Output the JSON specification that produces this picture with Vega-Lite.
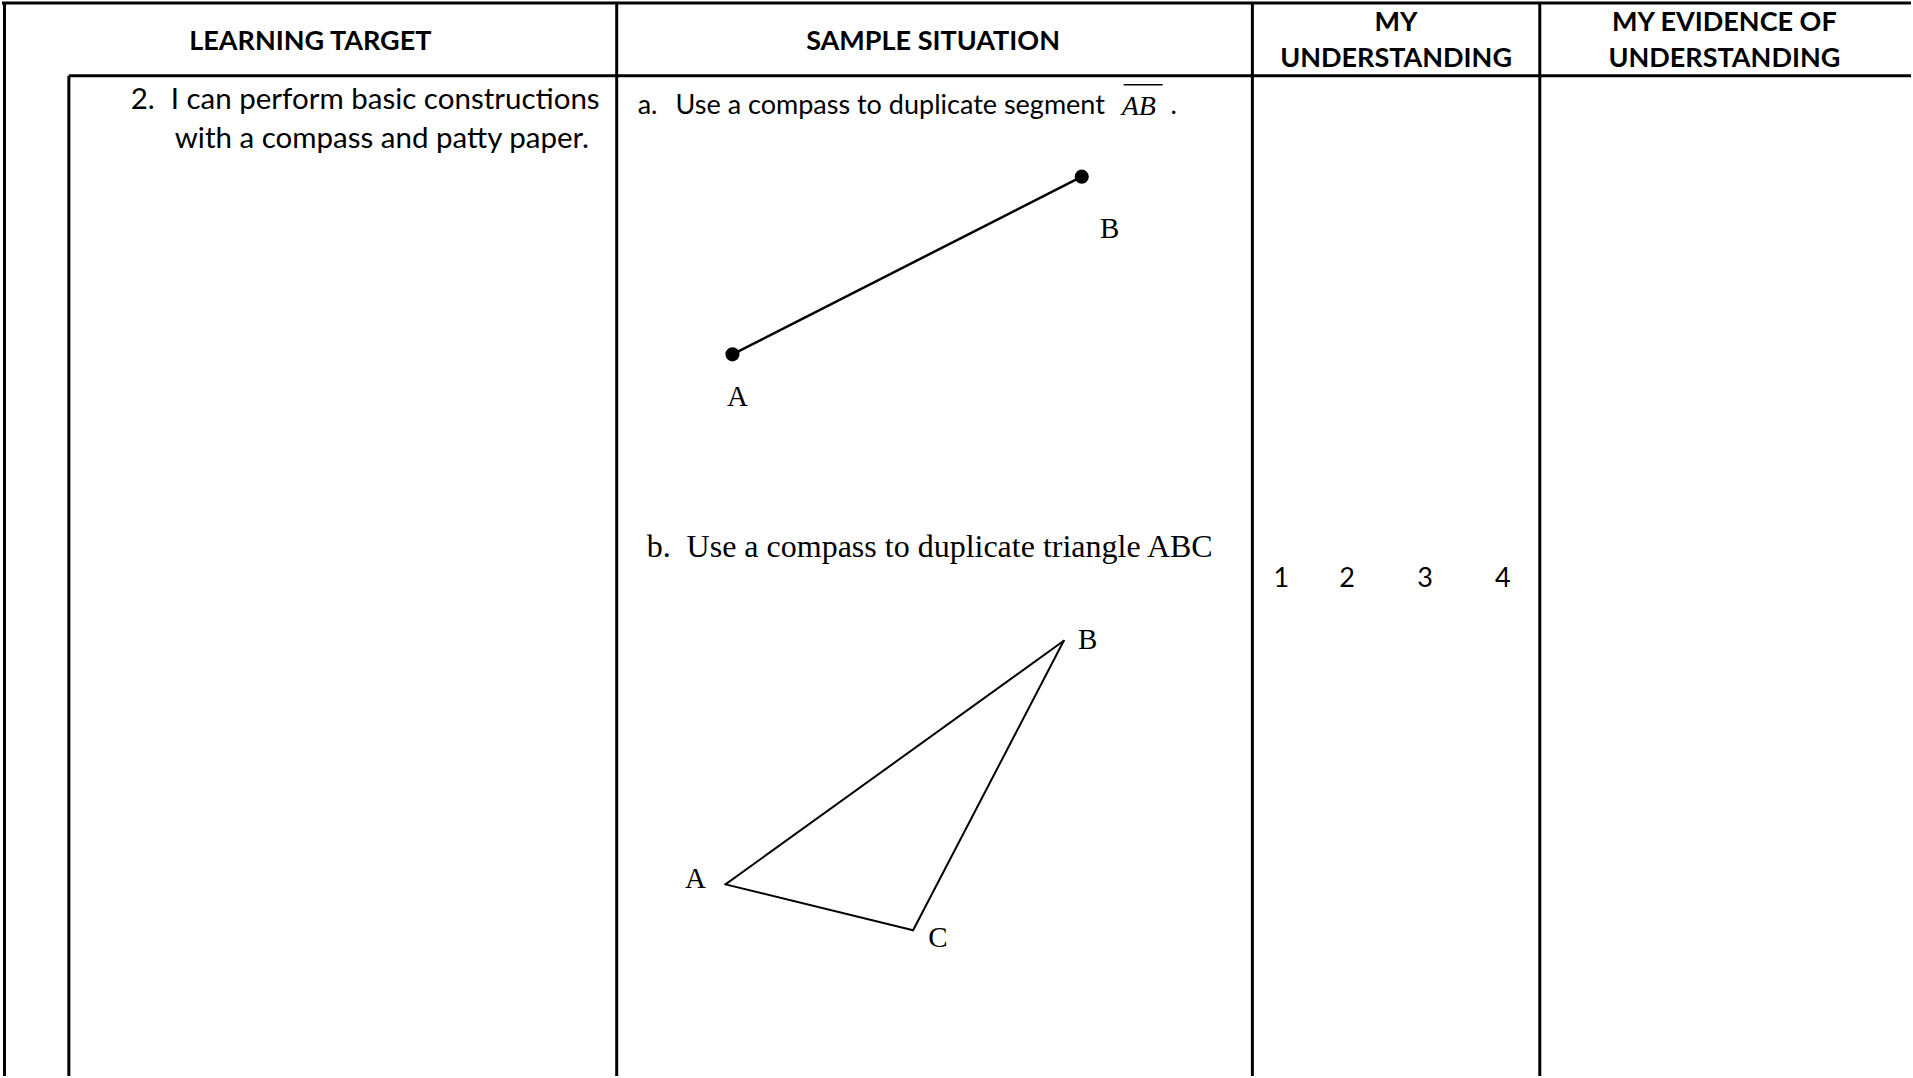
{
  "$schema": "https://vega.github.io/schema/vega-lite/v6.json",
  "width": 1913,
  "height": 1078,
  "autosize": {"type": "fit", "contains": "padding"},
  "padding": 0,
  "background": "white",
  "config": {"view": {"stroke": null}},
  "datasets": {
    "rules": [
      {"kind": "table", "x": 0, "y": 3, "x2": 1913, "y2": 3},
      {"kind": "table", "x": 67, "y": 76, "x2": 1913, "y2": 76},
      {"kind": "table", "x": 2.5, "y": 2, "x2": 2.5, "y2": 1078},
      {"kind": "table", "x": 67, "y": 76, "x2": 67, "y2": 1078},
      {"kind": "table", "x": 616, "y": 2, "x2": 616, "y2": 1078},
      {"kind": "table", "x": 1253, "y": 2, "x2": 1253, "y2": 1078},
      {"kind": "table", "x": 1541, "y": 2, "x2": 1541, "y2": 1078},
      {"kind": "segment", "x": 732, "y": 355, "x2": 1082, "y2": 177},
      {"kind": "triangle", "x": 725, "y": 886, "x2": 1064, "y2": 642},
      {"kind": "triangle", "x": 1064, "y": 642, "x2": 913, "y2": 932},
      {"kind": "triangle", "x": 913, "y": 932, "x2": 725, "y2": 886},
      {"kind": "overline", "x": 1124, "y": 85, "x2": 1163, "y2": 85}
    ],
    "dots": [
      {"name": "A", "x": 732, "y": 355},
      {"name": "B", "x": 1082, "y": 177}
    ],
    "texts": [
      {"role": "header", "x": 309, "y": 42, "text": "LEARNING TARGET"},
      {"role": "header", "x": 933, "y": 42, "text": "SAMPLE SITUATION"},
      {"role": "header", "x": 1397, "y": 23, "text": "MY"},
      {"role": "header", "x": 1397, "y": 59, "text": "UNDERSTANDING"},
      {"role": "header", "x": 1726, "y": 23, "text": "MY EVIDENCE OF"},
      {"role": "header", "x": 1726, "y": 59, "text": "UNDERSTANDING"},
      {"role": "body", "x": 129, "y": 100, "text": "2."},
      {"role": "body", "x": 169, "y": 100, "text": "I can perform basic constructions"},
      {"role": "body", "x": 173, "y": 139, "text": "with a compass and patty paper."},
      {"role": "small", "x": 637, "y": 106, "text": "a."},
      {"role": "small", "x": 675, "y": 106, "text": "Use a compass to duplicate segment"},
      {"role": "small", "x": 1171, "y": 106, "text": "."},
      {"role": "italic", "x": 1122, "y": 107, "text": "AB"},
      {"role": "serif", "x": 646, "y": 548, "text": "b."},
      {"role": "serif", "x": 686, "y": 548, "text": "Use a compass to duplicate triangle ABC"},
      {"role": "label", "x": 737, "y": 398, "text": "A"},
      {"role": "label", "x": 1110, "y": 229, "text": "B"},
      {"role": "label", "x": 695, "y": 881, "text": "A"},
      {"role": "label", "x": 1088, "y": 641, "text": "B"},
      {"role": "label", "x": 938, "y": 940, "text": "C"},
      {"role": "rating", "x": 1282, "y": 580, "text": "1"},
      {"role": "rating", "x": 1348, "y": 580, "text": "2"},
      {"role": "rating", "x": 1426, "y": 580, "text": "3"},
      {"role": "rating", "x": 1504, "y": 580, "text": "4"}
    ]
  },
  "layer": [
    {
      "data": {"name": "rules"},
      "transform": [{"filter": "datum.kind === 'table'"}],
      "mark": {"type": "rule", "color": "black", "strokeWidth": 3},
      "encoding": {
        "x": {"field": "x", "type": "quantitative", "scale": {"domain": [0, 1913], "nice": false, "zero": false}, "axis": null},
        "y": {"field": "y", "type": "quantitative", "scale": {"domain": [0, 1078], "nice": false, "zero": false, "reverse": true}, "axis": null},
        "x2": {"field": "x2"},
        "y2": {"field": "y2"}
      }
    },
    {
      "data": {"name": "rules"},
      "transform": [{"filter": "datum.kind === 'segment'"}],
      "mark": {"type": "rule", "color": "black", "strokeWidth": 2.5},
      "encoding": {
        "x": {"field": "x", "type": "quantitative", "scale": {"domain": [0, 1913], "nice": false, "zero": false}, "axis": null},
        "y": {"field": "y", "type": "quantitative", "scale": {"domain": [0, 1078], "nice": false, "zero": false, "reverse": true}, "axis": null},
        "x2": {"field": "x2"},
        "y2": {"field": "y2"}
      }
    },
    {
      "data": {"name": "rules"},
      "transform": [{"filter": "datum.kind === 'triangle'"}],
      "mark": {"type": "rule", "color": "black", "strokeWidth": 2, "strokeCap": "round"},
      "encoding": {
        "x": {"field": "x", "type": "quantitative", "scale": {"domain": [0, 1913], "nice": false, "zero": false}, "axis": null},
        "y": {"field": "y", "type": "quantitative", "scale": {"domain": [0, 1078], "nice": false, "zero": false, "reverse": true}, "axis": null},
        "x2": {"field": "x2"},
        "y2": {"field": "y2"}
      }
    },
    {
      "data": {"name": "rules"},
      "transform": [{"filter": "datum.kind === 'overline'"}],
      "mark": {"type": "rule", "color": "black", "strokeWidth": 1.5},
      "encoding": {
        "x": {"field": "x", "type": "quantitative", "scale": {"domain": [0, 1913], "nice": false, "zero": false}, "axis": null},
        "y": {"field": "y", "type": "quantitative", "scale": {"domain": [0, 1078], "nice": false, "zero": false, "reverse": true}, "axis": null},
        "x2": {"field": "x2"},
        "y2": {"field": "y2"}
      }
    },
    {
      "data": {"name": "dots"},
      "mark": {"type": "circle", "color": "black", "opacity": 1, "size": 200},
      "encoding": {
        "x": {"field": "x", "type": "quantitative", "scale": {"domain": [0, 1913], "nice": false, "zero": false}, "axis": null},
        "y": {"field": "y", "type": "quantitative", "scale": {"domain": [0, 1078], "nice": false, "zero": false, "reverse": true}, "axis": null}
      }
    },
    {
      "data": {"name": "texts"},
      "transform": [{"filter": "datum.role === 'header'"}],
      "mark": {"type": "text", "font": "Lato", "fontWeight": "bold", "fontSize": 27, "align": "center", "baseline": "middle", "color": "black"},
      "encoding": {
        "x": {"field": "x", "type": "quantitative", "scale": {"domain": [0, 1913], "nice": false, "zero": false}, "axis": null},
        "y": {"field": "y", "type": "quantitative", "scale": {"domain": [0, 1078], "nice": false, "zero": false, "reverse": true}, "axis": null},
        "text": {"field": "text"}
      }
    },
    {
      "data": {"name": "texts"},
      "transform": [{"filter": "datum.role === 'body'"}],
      "mark": {"type": "text", "font": "Lato", "fontSize": 29.5, "align": "left", "baseline": "middle", "color": "black"},
      "encoding": {
        "x": {"field": "x", "type": "quantitative", "scale": {"domain": [0, 1913], "nice": false, "zero": false}, "axis": null},
        "y": {"field": "y", "type": "quantitative", "scale": {"domain": [0, 1078], "nice": false, "zero": false, "reverse": true}, "axis": null},
        "text": {"field": "text"}
      }
    },
    {
      "data": {"name": "texts"},
      "transform": [{"filter": "datum.role === 'small'"}],
      "mark": {"type": "text", "font": "Lato", "fontSize": 27, "align": "left", "baseline": "middle", "color": "black"},
      "encoding": {
        "x": {"field": "x", "type": "quantitative", "scale": {"domain": [0, 1913], "nice": false, "zero": false}, "axis": null},
        "y": {"field": "y", "type": "quantitative", "scale": {"domain": [0, 1078], "nice": false, "zero": false, "reverse": true}, "axis": null},
        "text": {"field": "text"}
      }
    },
    {
      "data": {"name": "texts"},
      "transform": [{"filter": "datum.role === 'rating'"}],
      "mark": {"type": "text", "font": "Lato", "fontSize": 27, "align": "center", "baseline": "middle", "color": "black"},
      "encoding": {
        "x": {"field": "x", "type": "quantitative", "scale": {"domain": [0, 1913], "nice": false, "zero": false}, "axis": null},
        "y": {"field": "y", "type": "quantitative", "scale": {"domain": [0, 1078], "nice": false, "zero": false, "reverse": true}, "axis": null},
        "text": {"field": "text"}
      }
    },
    {
      "data": {"name": "texts"},
      "transform": [{"filter": "datum.role === 'italic'"}],
      "mark": {"type": "text", "font": "Liberation Serif", "fontStyle": "italic", "fontSize": 28, "align": "left", "baseline": "middle", "color": "black"},
      "encoding": {
        "x": {"field": "x", "type": "quantitative", "scale": {"domain": [0, 1913], "nice": false, "zero": false}, "axis": null},
        "y": {"field": "y", "type": "quantitative", "scale": {"domain": [0, 1078], "nice": false, "zero": false, "reverse": true}, "axis": null},
        "text": {"field": "text"}
      }
    },
    {
      "data": {"name": "texts"},
      "transform": [{"filter": "datum.role === 'serif'"}],
      "mark": {"type": "text", "font": "Liberation Serif", "fontSize": 32, "align": "left", "baseline": "middle", "color": "black"},
      "encoding": {
        "x": {"field": "x", "type": "quantitative", "scale": {"domain": [0, 1913], "nice": false, "zero": false}, "axis": null},
        "y": {"field": "y", "type": "quantitative", "scale": {"domain": [0, 1078], "nice": false, "zero": false, "reverse": true}, "axis": null},
        "text": {"field": "text"}
      }
    },
    {
      "data": {"name": "texts"},
      "transform": [{"filter": "datum.role === 'label'"}],
      "mark": {"type": "text", "font": "Liberation Serif", "fontSize": 29, "align": "center", "baseline": "middle", "color": "black"},
      "encoding": {
        "x": {"field": "x", "type": "quantitative", "scale": {"domain": [0, 1913], "nice": false, "zero": false}, "axis": null},
        "y": {"field": "y", "type": "quantitative", "scale": {"domain": [0, 1078], "nice": false, "zero": false, "reverse": true}, "axis": null},
        "text": {"field": "text"}
      }
    }
  ]
}
